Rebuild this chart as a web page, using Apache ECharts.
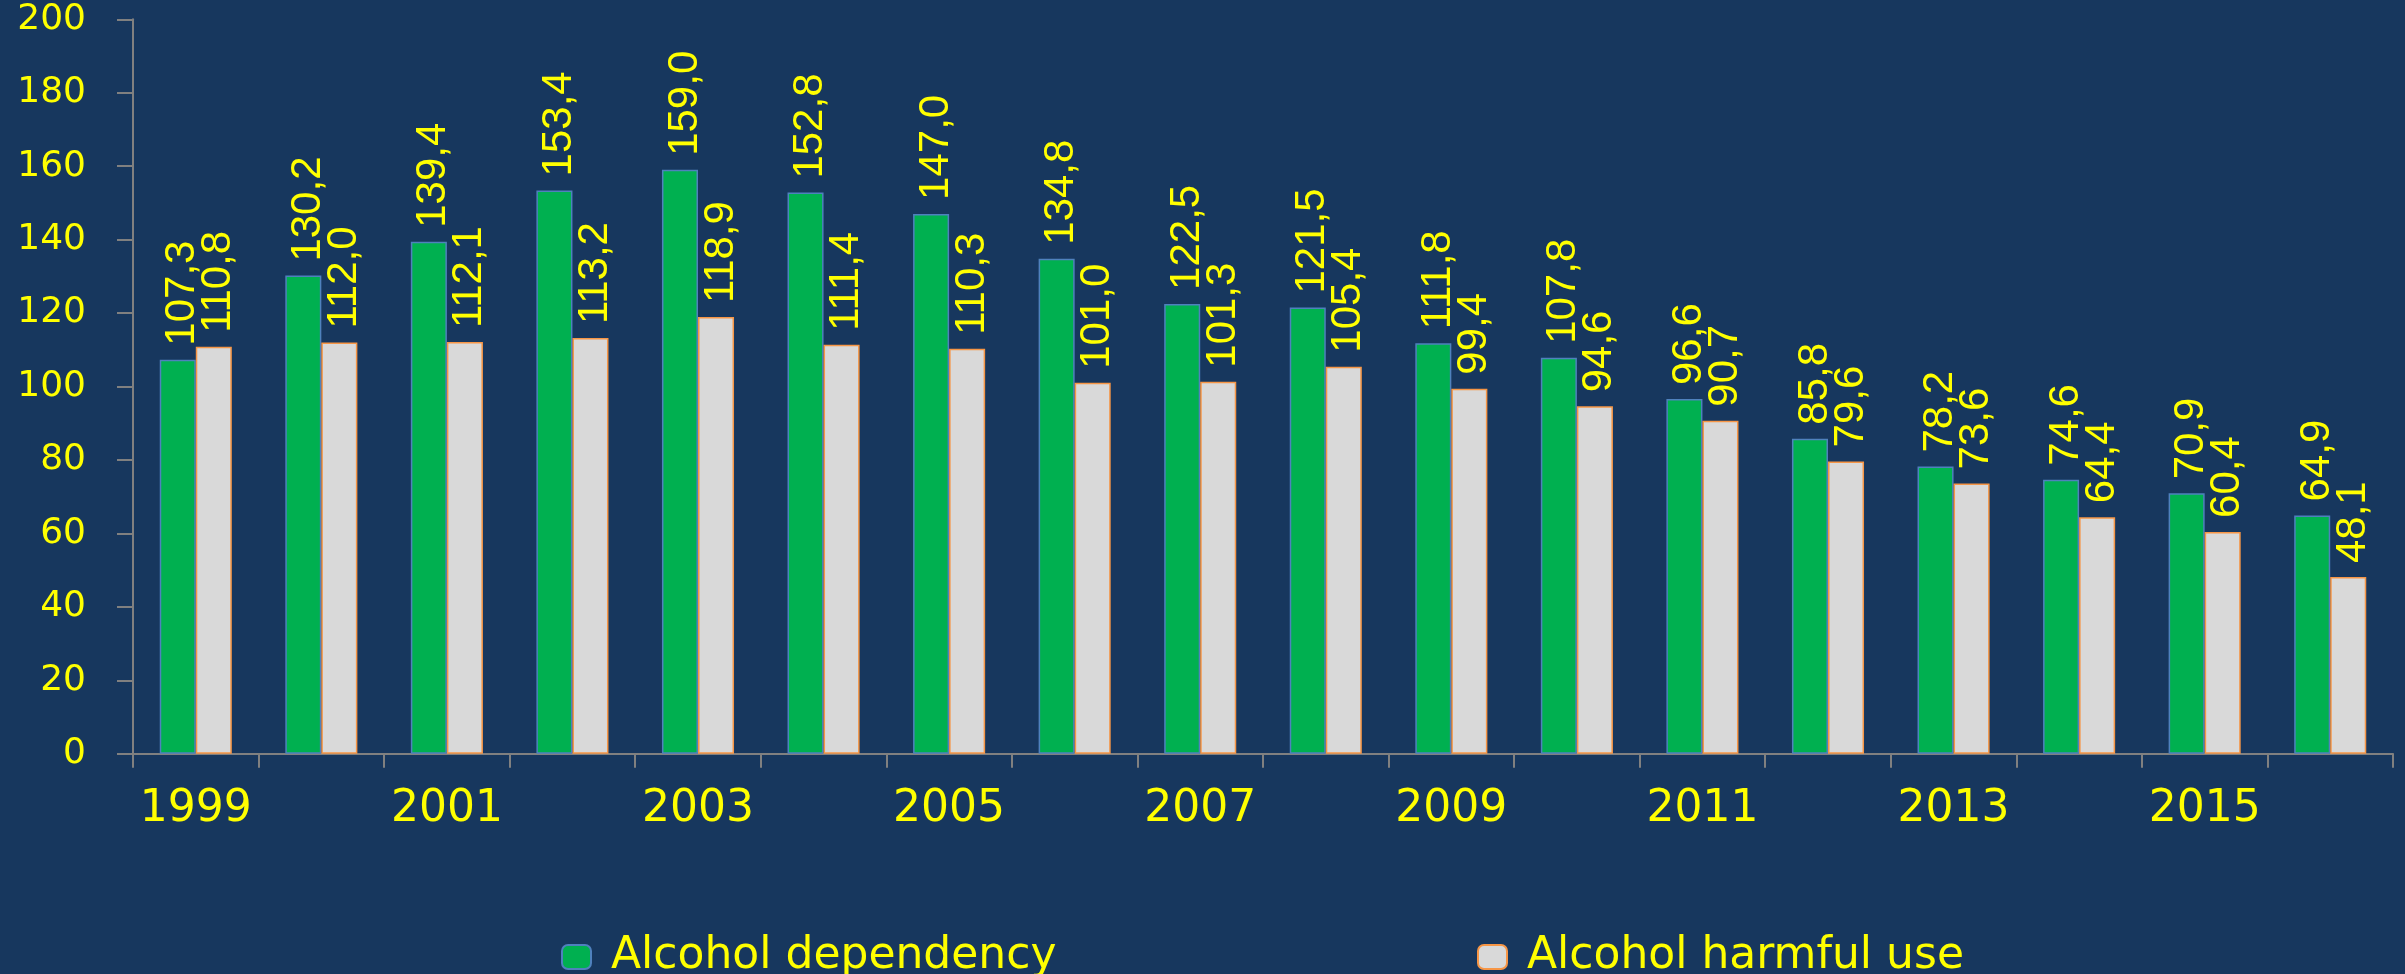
<!DOCTYPE html>
<html>
<head>
<meta charset="utf-8">
<script src="https://cdn.jsdelivr.net/npm/echarts@6/dist/echarts.min.js"></script>
<style>
html,body{margin:0;padding:0;background:#17375E;}
#chart{width:2405px;height:974px;}
</style>
</head>
<body>
<div id="chart"></div>
<script>
const years = ['1999','2000','2001','2002','2003','2004','2005','2006','2007','2008','2009','2010','2011','2012','2013','2014','2015','2016'];
const dependency = [107.3,130.2,139.4,153.4,159.0,152.8,147.0,134.8,122.5,121.5,111.8,107.8,96.6,85.8,78.2,74.6,70.9,64.9];
const harmfulUse = [110.8,112.0,112.1,113.2,118.9,111.4,110.3,101.0,101.3,105.4,99.4,94.6,90.7,79.6,73.6,64.4,60.4,48.1];
const seriesNames = ['Alcohol dependency','Alcohol harmful use'];
const yTicks = {min:0, max:200, interval:20};

const chart = echarts.init(document.getElementById('chart'));
const labelFont = "'Liberation Sans',Arial,sans-serif";
const mainFont = "'DejaVu Sans',Verdana,sans-serif";
const dataLabel = {
  show:true, position:'top', rotate:90, align:'left', verticalAlign:'middle', distance:14,
  offset:[0,5],
  color:'#FFFF00', fontSize:42, fontFamily:labelFont,
  formatter: p => p.value.toFixed(1).replace('.', ',')
};
const legendCommon = {
  top:935, padding:0, itemWidth:29, itemHeight:24,
  textStyle:{color:'#FFFF00', fontSize:44, fontFamily:mainFont, padding:[0,0,0,15]}
};
chart.setOption({
  backgroundColor:'#17375E',
  animation:false,
  grid:{left:133, right:12, top:19.3, bottom:220.3},
  legend:[
    Object.assign({left:561, data:[seriesNames[0]]}, legendCommon),
    Object.assign({left:1477, data:[seriesNames[1]]}, legendCommon)
  ],
  xAxis:{
    type:'category', data:years,
    axisLine:{lineStyle:{color:'#808080', width:2}},
    axisTick:{show:true, length:14, interval:0, lineStyle:{color:'#808080', width:2}},
    axisLabel:{interval:1, color:'#FFFF00', fontSize:44, fontFamily:mainFont, margin:34}
  },
  yAxis:{
    type:'value', min:yTicks.min, max:yTicks.max, interval:yTicks.interval,
    splitLine:{show:false},
    axisLine:{show:true, lineStyle:{color:'#808080', width:2}},
    axisTick:{show:true, length:16, lineStyle:{color:'#808080', width:2}},
    axisLabel:{color:'#FFFF00', fontSize:36, fontFamily:mainFont, margin:47}
  },
  series:[
    {name:seriesNames[0], type:'bar', data:dependency, barWidth:'28.7%', barGap:'0%',
     itemStyle:{color:'#00B050', borderColor:'#4F81BD', borderWidth:1.5}, label:dataLabel},
    {name:seriesNames[1], type:'bar', data:harmfulUse, barWidth:'28.7%', barGap:'0%',
     itemStyle:{color:'#D9D9D9', borderColor:'#F79646', borderWidth:1.5}, label:dataLabel}
  ]
});
</script>
</body>
</html>
